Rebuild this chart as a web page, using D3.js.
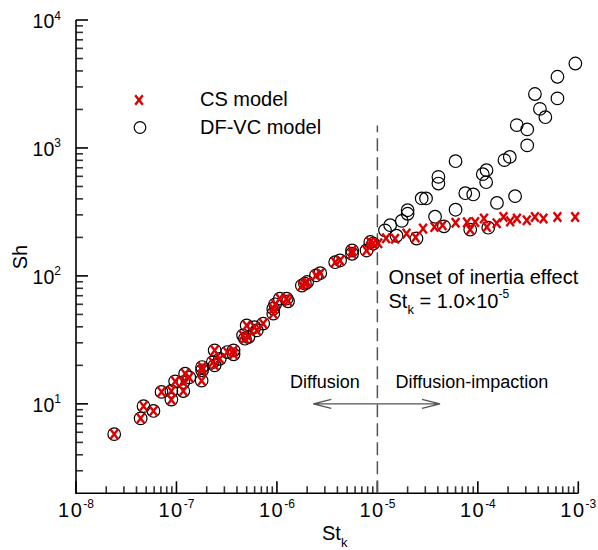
<!DOCTYPE html>
<html>
<head>
<meta charset="utf-8">
<script src="https://cdn.jsdelivr.net/npm/d3@7"></script>
<style>
  body { margin: 0; background: #fff; }
  svg { display: block; font-family: "Liberation Sans", Arial, Helvetica, sans-serif; }
</style>
</head>
<body>
<svg id="chart" width="598" height="550"></svg>
<script>
'use strict';

// Diffusion regime: both models give the same Sh
var diffSt = [2.4e-8, 4.4e-8, 4.7e-8, 5.9e-8, 7.1e-8, 8.9e-8, 8.9e-8, 9.7e-8, 1.17e-7, 1.17e-7,
  1.22e-7, 1.34e-7, 1.78e-7, 1.8e-7, 1.8e-7, 2.3e-7, 2.4e-7, 2.4e-7, 2.7e-7, 3.2e-7,
  3.7e-7, 3.7e-7, 4.6e-7, 4.8e-7, 5.0e-7, 5.2e-7, 6.0e-7, 6.3e-7, 7.3e-7, 9.2e-7,
  9.2e-7, 9.6e-7, 1.07e-6, 1.25e-6, 1.29e-6, 1.77e-6, 1.9e-6, 2.0e-6, 2.45e-6, 2.7e-6,
  3.8e-6, 4.25e-6, 5.6e-6, 5.6e-6, 7.8e-6, 8.5e-6, 9.1e-6];
var diffSh = [5.8, 7.7, 9.6, 8.8, 12.4, 12.6, 10.8, 15.0, 12.6, 14.8,
  17.2, 16.1, 15.2, 18.3, 19.4, 21.2, 20.0, 26.2, 22.5, 25.4,
  26.2, 24.4, 34.3, 32.3, 41, 33.3, 39.8, 37.5, 42.4, 50.7,
  55.5, 60, 66.4, 66.4, 63.3, 84, 87, 89.6, 101, 105,
  128, 132, 149, 158, 158, 184, 179];

// CS model, diffusion-impaction regime
var csSt = [8.5e-6, 1.02e-5, 1.22e-5, 1.5e-5, 1.95e-5, 2.4e-5, 2.85e-5, 3.7e-5, 4.45e-5, 6.0e-5,
  7.8e-5, 8.4e-5, 9.4e-5, 1.15e-4, 1.23e-4, 1.54e-4, 1.8e-4, 2.1e-4, 2.45e-4, 3.07e-4,
  3.7e-4, 4.5e-4, 6.2e-4, 9.3e-4];
var csSh = [170, 180, 197, 195, 214, 200, 234, 241, 249, 260,
  262, 230, 264, 281, 241, 258, 289, 267, 281, 272,
  289, 281, 289, 289];

// DF-VC model, diffusion-impaction regime
var dfSt = [1.19e-5, 1.34e-5, 1.55e-5, 1.75e-5, 2.0e-5, 2.0e-5, 2.45e-5, 2.76e-5, 3.05e-5, 3.75e-5,
  4.05e-5, 4.05e-5, 4.6e-5, 6.0e-5, 6.0e-5, 7.5e-5, 9.0e-5, 8.4e-5, 1.12e-4, 1.22e-4,
  1.21e-4, 1.27e-4, 1.55e-4, 1.84e-4, 2.08e-4, 2.35e-4, 2.44e-4, 3.1e-4, 3.1e-4, 3.7e-4,
  4.15e-4, 4.7e-4, 6.2e-4, 6.2e-4, 9.35e-4];
var dfSh = [227, 249, 206, 269, 326, 306, 196, 403, 403, 290,
  594, 527, 244, 788, 329, 443, 433, 230, 624, 670,
  540, 238, 372, 803, 851, 420, 1508, 1396, 1047, 2640,
  2020, 1740, 3600, 2440, 4570];

var xDecades = [1e-8, 1e-7, 1e-6, 1e-5, 1e-4, 1e-3];
var xTickExp = ['-8', '-7', '-6', '-5', '-4', '-3'];
var yDecades = [1e1, 1e2, 1e3, 1e4];
var yTickExp = ['1', '2', '3', '4'];
var legendLabels = ['CS model', 'DF-VC model'];

var onsetSt = 1e-5;      // onset of inertia effect
var arrowSt = [2.3e-6, 4.2e-5], arrowSh = 10;

var plotLeft = 76, plotRight = 578.3, plotTop = 20, plotBottom = 493.3;
var red = '#dd0000';

var svg = d3.select('#chart');
var x = d3.scaleLog().domain([1e-8, 1e-3]).range([plotLeft, plotRight]);
var y = d3.scaleLog().domain([2, 1e4]).range([plotBottom, plotTop]);

function zip(a, b) {
  return a.map(function(v, i) { return [v, b[i]]; });
}
var csPts = zip(diffSt, diffSh).concat(zip(csSt, csSh));
var dfPts = zip(diffSt, diffSh).concat(zip(dfSt, dfSh));

// 2..9 in every decade between lo and hi
function minorTicks(lo, hi) {
  var out = [];
  for (var d = lo; d < hi * 0.99; d *= 10) {
    for (var k = 2; k <= 9; k++) out.push(d * k);
  }
  return out;
}

/**
 * Axes: only left and bottom, ticks point inward
 */
var axes = svg.append('g').attr('fill', 'none');

function tickLines(vals, isX, len, color) {
  axes.append('g').selectAll('line').data(vals).join('line')
    .attr('x1', function(d) { return isX ? x(d) : plotLeft; })
    .attr('x2', function(d) { return isX ? x(d) : plotLeft + len; })
    .attr('y1', function(d) { return isX ? plotBottom : y(d); })
    .attr('y2', function(d) { return isX ? plotBottom - len : y(d); })
    .attr('stroke', color)
    .attr('stroke-width', 1.6);
}
tickLines(minorTicks(1e-8, 1e-3), true, 7, '#333');
tickLines(xDecades, true, 12, '#000');
tickLines(minorTicks(1, 1e4).filter(function(v) { return v > 2; }), false, 7, '#333');
tickLines(yDecades, false, 12, '#000');

axes.append('path')
  .attr('d', 'M' + plotLeft + ',' + y(1e4) + 'V' + y(2) + 'H' + x(1e-3))
  .attr('stroke', '#000').attr('stroke-width', 1.6);

// tick labels as 10 with superscript
var xl = svg.append('g').selectAll('text').data(xDecades).join('text')
  .attr('x', function(d) { return x(d); })
  .attr('y', plotBottom + 23.4)
  .attr('text-anchor', 'middle')
  .attr('font-size', 20)
  .attr('fill', '#000');
xl.append('tspan').attr('letter-spacing', 1.5).text('10');
xl.append('tspan').attr('font-size', 12).attr('dy', -8.4).text(function(d, i) { return xTickExp[i]; });

var yl = svg.append('g').selectAll('text').data(yDecades).join('text')
  .attr('x', 61)
  .attr('y', function(d) { return y(d) + 7.8; })
  .attr('text-anchor', 'end')
  .attr('font-size', 19.5)
  .attr('fill', '#000');
yl.append('tspan').text('10');
yl.append('tspan').attr('font-size', 12).attr('dy', -8.3).text(function(d, i) { return yTickExp[i]; });

// axis titles
svg.append('text')
  .attr('transform', 'translate(26.5,257) rotate(-90)')
  .attr('text-anchor', 'middle')
  .attr('font-size', 20)
  .text('Sh');
var xt = svg.append('text').attr('x', 322).attr('y', 540).attr('font-size', 20);
xt.append('tspan').text('St');
xt.append('tspan').attr('font-size', 13).attr('dy', 7).text('k');

/**
 * Onset line, regime arrow and notes
 */
svg.append('line')
  .attr('x1', x(onsetSt)).attr('x2', x(onsetSt))
  .attr('y1', y(2)).attr('y2', y(1500))
  .attr('stroke', '#555').attr('stroke-width', 1.5)
  .attr('stroke-dasharray', '13,6');

var ax0 = x(arrowSt[0]), ax1 = x(arrowSt[1]), ay = y(arrowSh);
svg.append('path')
  .attr('d', 'M' + ax0 + ',' + ay + 'H' + ax1 +
    'M' + (ax0 + 18) + ',' + (ay - 4.5) + 'L' + ax0 + ',' + ay + 'L' + (ax0 + 18) + ',' + (ay + 4.5) +
    'M' + (ax1 - 18) + ',' + (ay - 4.5) + 'L' + ax1 + ',' + ay + 'L' + (ax1 - 18) + ',' + (ay + 4.5))
  .attr('fill', 'none').attr('stroke', '#555').attr('stroke-width', 1.3);

svg.append('text').attr('x', 290).attr('y', 387.7).attr('font-size', 18).text('Diffusion');
svg.append('text').attr('x', 395.5).attr('y', 387.7).attr('font-size', 18).text('Diffusion-impaction');

svg.append('text').attr('x', 388.5).attr('y', 283.5).attr('font-size', 20).text('Onset of inertia effect');
var note = svg.append('text').attr('x', 388.5).attr('y', 307.7).attr('font-size', 20);
note.append('tspan').text('St');
note.append('tspan').attr('font-size', 13).attr('dy', 6).text('k');
note.append('tspan').attr('dy', -6).text(' = 1.0\u00d710');
note.append('tspan').attr('font-size', 12).attr('dy', -9.4).text('-5');

/**
 * Data markers
 */
var crossPath = 'M-3.8,-4.8L3.8,4.8M3.8,-4.8L-3.8,4.8';

svg.append('g').selectAll('circle').data(dfPts).join('circle')
  .attr('cx', function(d) { return x(d[0]); })
  .attr('cy', function(d) { return y(d[1]); })
  .attr('r', 6.3)
  .attr('fill', 'none').attr('stroke', '#000').attr('stroke-width', 1.2);

svg.append('g').selectAll('path').data(csPts).join('path')
  .attr('transform', function(d) { return 'translate(' + x(d[0]) + ',' + y(d[1]) + ')'; })
  .attr('d', crossPath)
  .attr('fill', 'none').attr('stroke', red).attr('stroke-width', 2.4);

// legend
var lg = svg.append('g');
lg.append('path').attr('transform', 'translate(139,100)').attr('d', crossPath)
  .attr('fill', 'none').attr('stroke', red).attr('stroke-width', 2.4);
lg.append('circle').attr('cx', 140).attr('cy', 127.5).attr('r', 5.8)
  .attr('fill', 'none').attr('stroke', '#000').attr('stroke-width', 1.2);
lg.selectAll('text').data(legendLabels).join('text')
  .attr('x', 200)
  .attr('y', function(d, i) { return 106 + i * 27.5; })
  .attr('font-size', 20)
  .text(function(d) { return d; });
</script>
</body>
</html>
